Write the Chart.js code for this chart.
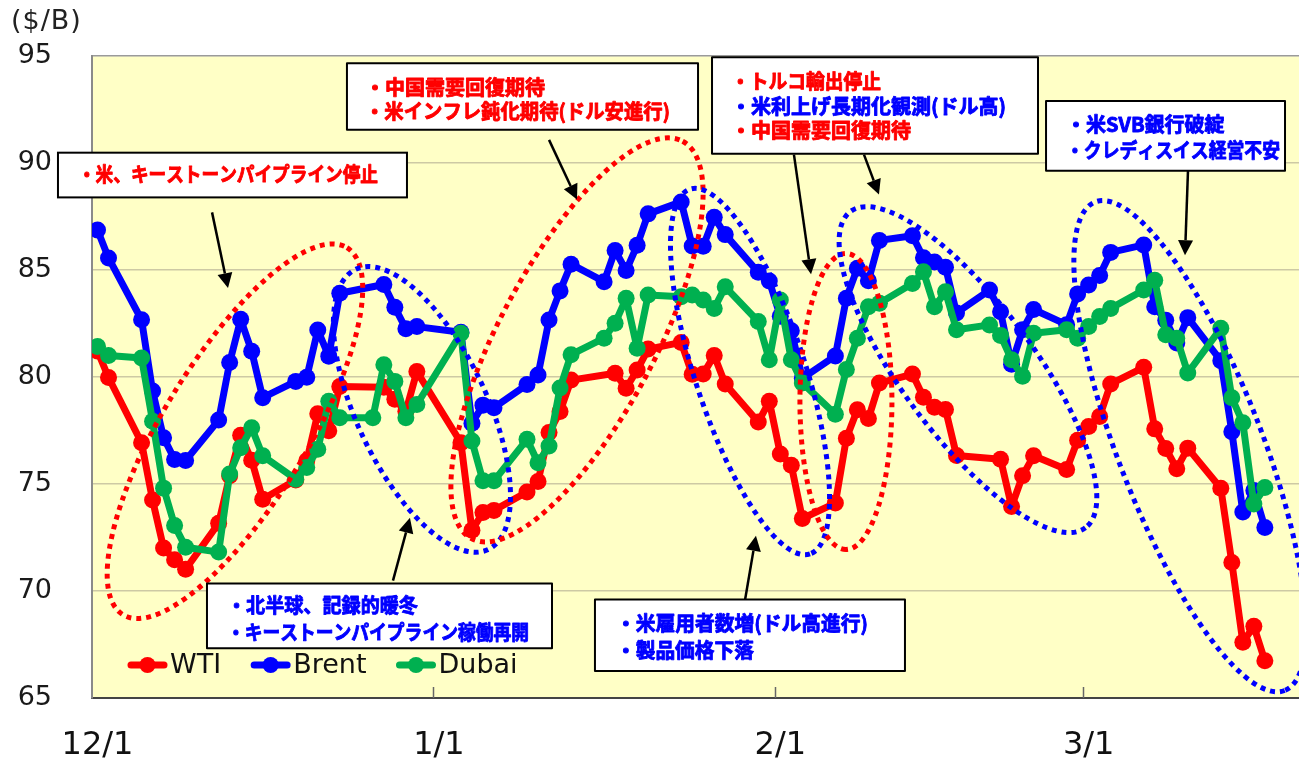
<!DOCTYPE html>
<html lang="ja">
<head>
<meta charset="utf-8">
<title>原油価格の推移</title>
<script src="https://cdn.jsdelivr.net/npm/chart.js@4.4.1/dist/chart.umd.min.js"></script>
<style>
  html, body { margin: 0; padding: 0; background: #fff; }
  canvas { display: block; }
</style>
</head>
<body>
<canvas id="oil" width="1299" height="761"></canvas>
<script>
 "use strict";

 /*----------------------------------------*/
 /*  data ($/B)
 /*----------------------------------------*/
var dates = [
  '12/1','12/2','12/5','12/6','12/7','12/8','12/9','12/12','12/13','12/14','12/15','12/16',
  '12/19','12/20','12/21','12/22','12/23','12/26','12/27','12/28','12/29','12/30',
  '1/3','1/4','1/5','1/6','1/9','1/10','1/11','1/12','1/13','1/16','1/17','1/18','1/19','1/20',
  '1/23','1/24','1/25','1/26','1/27','1/30','1/31',
  '2/1','2/2','2/3','2/6','2/7','2/8','2/9','2/10','2/13','2/14','2/15','2/16','2/17',
  '2/20','2/21','2/22','2/23','2/24','2/27','2/28',
  '3/1','3/2','3/3','3/6','3/7','3/8','3/9','3/10','3/13','3/14','3/15','3/16','3/17'
];

var wti = [
  81.22, 79.98, 76.93, 74.25, 72.01, 71.46, 71.02, 73.17, 75.39, 77.28, 76.11, 74.29,
  75.19, 76.09, 78.29, 77.49, 79.56, null, 79.53, 78.96, 78.40, 80.26,
  76.93, 72.84, 73.67, 73.77, 74.63, 75.12, 77.41, 78.39, 79.86, null, 80.18, 79.48, 80.33, 81.31,
  81.62, 80.13, 80.15, 81.01, 79.68, 77.90, 78.87,
  76.41, 75.88, 73.39, 74.11, 77.14, 78.47, 78.06, 79.72, 80.14, 79.06, 78.59, 78.49, 76.34,
  null, 76.16, 73.95, 75.39, 76.32, 75.68, 77.05,
  77.69, 78.16, 79.68, 80.46, 77.58, 76.66, 75.72, 76.68, 74.80, 71.33, 67.61, 68.35, 66.74
];

var brent = [
  86.88, 85.57, 82.68, 79.35, 77.17, 76.15, 76.10, 77.99, 80.68, 82.70, 81.21, 79.04,
  79.80, 79.99, 82.20, 80.98, 83.92, null, 84.33, 83.26, 82.26, 82.36,
  82.10, 77.84, 78.69, 78.57, 79.65, 80.10, 82.67, 84.03, 85.28, 84.46, 85.92, 84.98, 86.16, 87.63,
  88.19, 86.13, 86.12, 87.47, 86.66, 84.90, 84.49,
  82.84, 82.17, 79.94, 80.99, 83.69, 85.09, 84.50, 86.39, 86.61, 85.58, 85.38, 85.14, 83.00,
  84.07, 83.05, 80.60, 82.21, 83.16, 82.45, 83.89,
  84.31, 84.75, 85.83, 86.18, 83.29, 82.66, 81.59, 82.78, 80.77, 77.45, 73.69, 74.70, 72.97
];

var dubai = [
  81.43, 81.01, 80.89, 77.94, 74.81, 73.06, 72.05, 71.82, 75.47, 76.70, 77.63, 76.32,
  75.23, 75.77, 76.63, 78.87, 78.10, 78.10, 80.58, 79.80, 78.10, 78.72,
  82.05, 77.01, 75.15, 75.15, 77.09, 76.00, 76.78, 79.49, 81.05, 81.82, 82.52, 83.68, 81.35, 83.84,
  83.76, 83.84, 83.60, 83.21, 84.22, 82.60, 80.81,
  83.60, 80.81, 79.73, 78.26, 80.35, 81.82, 83.29, 83.45, 84.38, 84.92, 83.29, 83.99, 82.21,
  82.44, 81.95, 80.81, 80.04, 82.05, 82.21, 81.82,
  82.36, 82.83, 83.21, 84.07, 84.53, 81.98, 81.82, 80.19, 82.28, 79.03, 77.87, 74.07, 74.84
];

var yTicks = [65, 70, 75, 80, 85, 90, 95];
var xTickDays = [0, 31, 62, 90];
var xTickLabels = ['12/1', '1/1', '2/1', '3/1'];

var RED = '#ff0000', BLUE = '#0000ff', GREEN = '#00b050';

 /*----------------------------------------*/
 /*  annotations (x = days from 12/1, y = $/B)
 /*----------------------------------------*/
var ellipses = [
  { x: 12.98, y: 77.47, rx: 215, ry: 72, rot: -58.6, color: RED },
  { x: 29.96, y: 78.49, rx: 155, ry: 65, rot: 64.7, color: BLUE },
  { x: 44.04, y: 81.74, rx: 225, ry: 78, rot: -62, color: RED },
  { x: 59.75, y: 80.26, rx: 192, ry: 55, rot: 71.8, color: BLUE },
  { x: 68.46, y: 78.86, rx: 148, ry: 46, rot: 90, color: RED },
  { x: 79.54, y: 80.35, rx: 197, ry: 66, rot: 53.4, color: BLUE },
  { x: 99.70, y: 76.77, rx: 262, ry: 72, rot: 68.8, color: BLUE }
];

var arrows = [
  [10.90, 87.70, 12.35, 84.16],
  [41.50, 91.09, 44.04, 88.30],
  [63.74, 90.40, 65.29, 84.81],
  [70.10, 90.40, 71.46, 88.53],
  [99.52, 89.65, 99.25, 85.70],
  [27.33, 70.49, 28.87, 73.42],
  [59.29, 69.56, 60.29, 72.58]
];

var notes = [
  { box: [-3.09, 90.49, 28.60, 88.40], pad: 20,
    lines: [['・米、キーストーンパイプライン停止', RED, 22, 300]] },
  { box: [23.15, 94.67, 55.03, 91.56], pad: 18,
    lines: [['・中国需要回復期待', RED, 24, 183], ['・米インフレ鈍化期待(ドル安進行)', RED, 48, 305]] },
  { box: [56.30, 94.95, 85.90, 90.44], pad: 19,
    lines: [['・トルコ輸出停止', RED, 24, 150], ['・米利上げ長期化観測(ドル高)', BLUE, 49, 275],
            ['・中国需要回復期待', RED, 73, 180]] },
  { box: [86.63, 92.91, 108.33, 89.65], pad: 20,
    lines: [['・米SVB銀行破綻', BLUE, 23, 166], ['・クレディスイス経営不安', BLUE, 49, 214]] },
  { box: [10.44, 70.35, 41.77, 67.33], pad: 20,
    lines: [['・北半球、記録的暖冬', BLUE, 22, 191], ['・キーストーンパイプライン稼働再開', BLUE, 49, 302]] },
  { box: [45.67, 69.60, 73.82, 66.26], pad: 21,
    lines: [['・米雇用者数増(ドル高進行)', BLUE, 24, 252], ['・製品価格下落', BLUE, 51, 138]] }
];

var legendItems = [['WTI', RED], ['Brent', BLUE], ['Dubai', GREEN]];

 /*----------------------------------------*/
 /*  helpers
 /*----------------------------------------*/
var monthStart = { 12: 0, 1: 31, 2: 62, 3: 90 };

function dayOf(s) {
  var p = s.split('/');
  return monthStart[+p[0]] + (+p[1]) - 1;
}

function series(values) {
  var out = [];
  for (var i = 0; i < dates.length; i++) {
    if (values[i] !== null) out.push({ x: dayOf(dates[i]) + 0.5, y: values[i] });
  }
  return out;
}

function noPadding(s) {
  s.paddingLeft = 0;
  s.paddingRight = 0;
}

var JP = '"Noto Sans CJK JP", "Noto Sans", sans-serif';
var LATIN = '"DejaVu Sans", Verdana, sans-serif';

var overlay = {
  id: 'overlay',
  beforeDraw: function (chart) {
    var a = chart.chartArea, c = chart.ctx;
    c.save();
    c.fillStyle = '#ffffc6';
    c.fillRect(a.left, a.top, a.right - a.left, a.bottom - a.top);
    c.restore();
  },
  afterDraw: function (chart) {
    var c = chart.ctx, a = chart.chartArea;
    var xs = chart.scales.x, ys = chart.scales.y;
    function px(v) { return xs.getPixelForValue(v); }
    function py(v) { return ys.getPixelForValue(v); }

    c.save();

    // inner tick marks on the date axis
    c.strokeStyle = '#666';
    c.lineWidth = 1.5;
    xTickDays.slice(1).forEach(function (d) {
      var x = Math.round(px(d)) + 0.5;
      c.beginPath(); c.moveTo(x, a.bottom); c.lineTo(x, a.bottom - 11); c.stroke();
    });

    // dotted ellipses
    c.lineWidth = 5;
    c.setLineDash([5, 5]);
    ellipses.forEach(function (e) {
      c.strokeStyle = e.color;
      c.beginPath();
      c.ellipse(px(e.x), py(e.y), e.rx, e.ry, e.rot * Math.PI / 180, 0, Math.PI * 2);
      c.stroke();
    });
    c.setLineDash([]);

    // arrows
    c.strokeStyle = '#000';
    c.fillStyle = '#000';
    c.lineWidth = 2.5;
    arrows.forEach(function (ar) {
      var x0 = px(ar[0]), y0 = py(ar[1]), x1 = px(ar[2]), y1 = py(ar[3]);
      var ang = Math.atan2(y1 - y0, x1 - x0), L = 15, W = 7.5;
      var bx = x1 - L * Math.cos(ang), by = y1 - L * Math.sin(ang);
      c.beginPath(); c.moveTo(x0, y0); c.lineTo(bx, by); c.stroke();
      c.beginPath();
      c.moveTo(x1, y1);
      c.lineTo(bx + W * Math.sin(ang), by - W * Math.cos(ang));
      c.lineTo(bx - W * Math.sin(ang), by + W * Math.cos(ang));
      c.closePath(); c.fill();
    });

    // note boxes
    notes.forEach(function (n) {
      var x0 = px(n.box[0]), y0 = py(n.box[1]), x1 = px(n.box[2]), y1 = py(n.box[3]);
      c.fillStyle = '#fff';
      c.fillRect(x0, y0, x1 - x0, y1 - y0);
      c.strokeStyle = '#000';
      c.lineWidth = 2;
      c.strokeRect(x0, y0, x1 - x0, y1 - y0);
      c.font = 'bold 20px ' + JP;
      c.textAlign = 'left';
      c.textBaseline = 'middle';
      c.lineWidth = 0.9;
      c.lineJoin = 'round';
      n.lines.forEach(function (l) {
        c.fillStyle = l[1];
        c.strokeStyle = l[1];
        c.fillText(l[0], x0 + n.pad, y0 + l[2], l[3]);
        c.strokeText(l[0], x0 + n.pad, y0 + l[2], l[3]);
      });
    });

    // legend
    var lx = a.left + 36, ly = a.bottom - 33;
    c.font = '27px ' + LATIN;
    c.textBaseline = 'middle';
    legendItems.forEach(function (it) {
      c.strokeStyle = it[1];
      c.fillStyle = it[1];
      c.lineWidth = 7;
      c.lineCap = 'round';
      c.beginPath(); c.moveTo(lx + 3, ly); c.lineTo(lx + 36, ly); c.stroke();
      c.beginPath(); c.arc(lx + 19.5, ly, 8, 0, Math.PI * 2); c.fill();
      c.fillStyle = '#111';
      c.fillText(it[0], lx + 42, ly + 1);
      lx += 42 + c.measureText(it[0]).width + 30;
    });

    // unit label
    c.font = '27px ' + LATIN;
    c.fillStyle = '#222';
    c.textBaseline = 'middle';
    c.letterSpacing = '1px';
    c.fillText('($/B)', 11, 22);
    c.letterSpacing = '0px';

    c.restore();
  }
};

 /*----------------------------------------*/
 /*  chart
 /*----------------------------------------*/
var ctx = document.getElementById('oil');
var oilchart = new Chart(ctx, {
  type: 'line',
  data: {
    datasets: [{
      label: 'WTI',
      data: series(wti),
      borderColor: RED,
      backgroundColor: RED,
      pointBackgroundColor: RED,
      order: 3
    }, {
      label: 'Brent',
      data: series(brent),
      borderColor: BLUE,
      backgroundColor: BLUE,
      pointBackgroundColor: BLUE,
      order: 2
    }, {
      label: 'Dubai',
      data: series(dubai),
      borderColor: GREEN,
      backgroundColor: GREEN,
      pointBackgroundColor: GREEN,
      order: 1
    }]
  },
  options: {
    responsive: false,
    animation: false,
    layout: { autoPadding: false, padding: { top: 53, left: 0, right: 0, bottom: 0 } },
    elements: {
      line: { borderWidth: 7, tension: 0, borderJoinStyle: 'round', borderCapStyle: 'round' },
      point: { radius: 8.5, hoverRadius: 8.5, borderWidth: 0 }
    },
    plugins: {
      legend: { display: false },
      tooltip: { enabled: false }
    },
    scales: {
      x: {
        type: 'linear',
        min: 0,
        max: 109.6,
        afterBuildTicks: function (s) {
          s.ticks = xTickDays.map(function (d) { return { value: d + 0.5 }; });
        },
        afterFit: function (s) { s.height = 63; noPadding(s); },
        grid: { display: false },
        border: { display: true, color: '#444', width: 2 },
        ticks: {
          autoSkip: false,
          maxRotation: 0,
          padding: 20,
          color: '#111',
          font: { family: LATIN, size: 32 },
          callback: function (v) {
            var i = xTickDays.indexOf(Math.round(v - 0.5));
            return i >= 0 ? xTickLabels[i] : '';
          }
        }
      },
      y: {
        min: 65,
        max: 95,
        afterBuildTicks: function (s) {
          s.ticks = yTicks.map(function (v) { return { value: v }; });
        },
        afterFit: function (s) { s.width = 92; },
        grid: {
          drawTicks: false,
          lineWidth: 1.5,
          color: function (c) {
            if (c.tick && c.tick.value === 95) return '#9a9a9a';
            if (c.tick && c.tick.value === 65) return 'rgba(0,0,0,0)';
            return '#cdc9a4';
          }
        },
        border: { display: true, color: '#8a8a8a', width: 2 },
        ticks: {
          padding: 40,
          color: '#1a1a1a',
          font: { family: LATIN, size: 27 }
        }
      }
    }
  },
  plugins: [overlay]
});
</script>
</body>
</html>
